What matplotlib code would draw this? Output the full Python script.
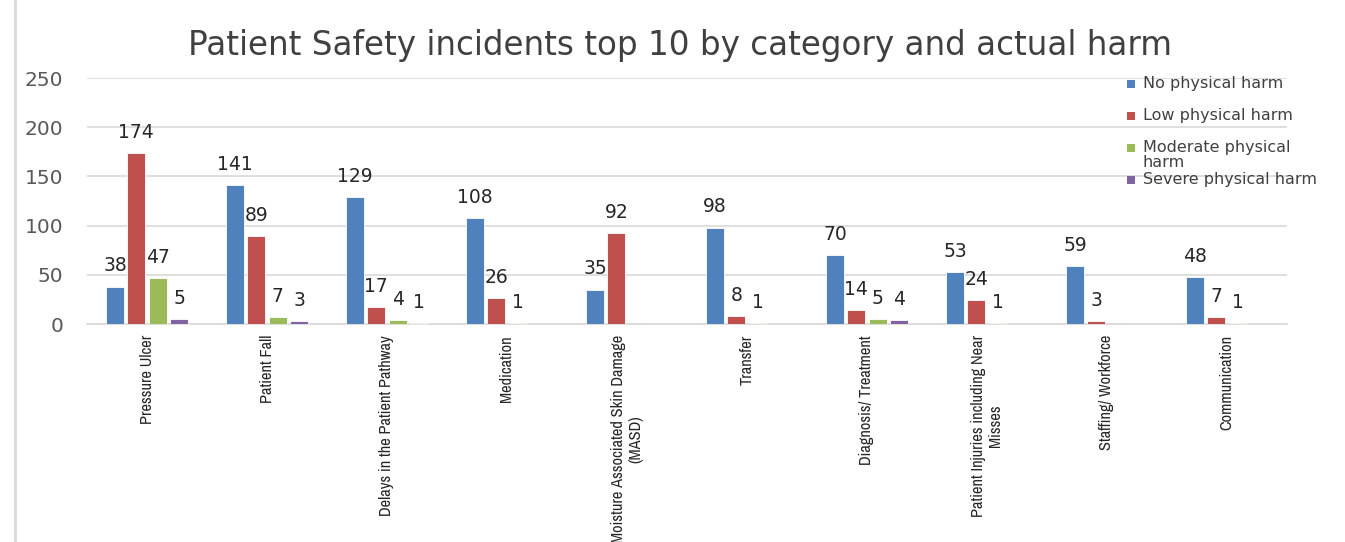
import matplotlib
matplotlib.use("Agg")
import matplotlib.pyplot as plt
from matplotlib.lines import Line2D
from matplotlib.patches import Rectangle
from matplotlib import font_manager
import numpy as np

categories = [
    "Pressure Ulcer",
    "Patient Fall",
    "Delays in the Patient Pathway",
    "Medication",
    "Moisture Associated Skin Damage\n(MASD)",
    "Transfer",
    "Diagnosis/ Treatment",
    "Patient Injuries including Near\nMisses",
    "Staffing/ Workforce",
    "Communication",
]
series_names = ["No physical harm", "Low physical harm",
                "Moderate physical\nharm", "Severe physical harm"]
no_harm = [38, 141, 129, 108, 35, 98, 70, 53, 59, 48]
low_harm = [174, 89, 17, 26, 92, 8, 14, 24, 3, 7]
moderate_harm = [47, 7, 4, 1, 0, 1, 5, 1, 0, 1]
severe_harm = [5, 3, 1, 0, 0, 0, 4, 0, 0, 0]
yticks = [0, 50, 100, 150, 200, 250]

# find a narrow / condensed font for the category labels if available
narrow_props = None
for f in font_manager.fontManager.ttflist:
    nm = f.name.lower()
    fn = f.fname.lower()
    if ("narrow" in nm or "narrow" in fn) and "bold" not in fn and "italic" not in fn:
        narrow_props = dict(family=f.name, fontstretch=f.stretch)
        break
if narrow_props is None:
    for f in font_manager.fontManager.ttflist:
        fn = f.fname.lower()
        if "condensed" in fn and "bold" not in fn and "oblique" not in fn and "italic" not in fn:
            narrow_props = dict(family=f.name, fontstretch="condensed")
            break
if narrow_props is None:
    narrow_props = dict(family="Liberation Sans")
    cat_size = 10.5
else:
    cat_size = 11.8

colors = ["#4F81BD", "#C0504D", "#9BBB59", "#8064A2"]
W, H = 1345, 542
fig = plt.figure(figsize=(W / 100, H / 100), dpi=100)
fig.patch.set_facecolor("white")

ax = fig.add_axes([87 / W, (H - 324) / H, 1200 / W, 246 / H])
x = np.arange(len(categories))
slot = 0.178
bw = 0.148
all_series = [no_harm, low_harm, moderate_harm, severe_harm]
for i, (vals, c) in enumerate(zip(all_series, colors)):
    off = (i - 1.5) * slot
    bars = ax.bar(x + off, vals, width=bw, color=c, edgecolor="white",
                  linewidth=0.6, zorder=3)
    for b, v in zip(bars, vals):
        if v == 0:
            continue
        ax.annotate(str(v), (b.get_x() + b.get_width() / 2, v),
                    xytext=(0, 8), textcoords="offset points",
                    ha="center", va="bottom", fontsize=13.5,
                    color="#262626", family="DejaVu Sans")

ax.set_xlim(-0.5, len(categories) - 0.5)
ax.set_ylim(0, 250)
ax.set_yticks(yticks)
ax.set_yticklabels([str(t) for t in yticks], fontsize=14.5, color="#595959")
ax.tick_params(axis="y", length=0, pad=17)
ax.yaxis.grid(True, color="#d9d9d9", linewidth=1.2, zorder=0)
ax.set_axisbelow(True)
for s in ["top", "right", "left"]:
    ax.spines[s].set_visible(False)
ax.spines["bottom"].set_color("#d9d9d9")
ax.spines["bottom"].set_linewidth(1.2)
ax.set_xticks(x)
ax.set_xticklabels(categories, rotation=90, ha="center", va="top",
                   multialignment="center", fontsize=cat_size, color="#262626",
                   linespacing=1.2, **narrow_props)
ax.tick_params(axis="x", length=0, pad=8)

fig.text(680 / W, 1 - 45 / H, "Patient Safety incidents top 10 by category and actual harm",
         ha="center", va="center", fontsize=23.5, color="#404040")

# legend (manual layout)
leg_y = [84, 116, 148, 180]
for name, c, yy in zip(series_names, colors, leg_y):
    fig.patches.append(Rectangle((1127 / W, 1 - (yy + 4) / H), 8 / W, 8 / H,
                                 transform=fig.transFigure, facecolor=c,
                                 edgecolor="none", figure=fig))
    fig.text(1143 / W, 1 - (yy - 8) / H, name, ha="left", va="top",
             fontsize=11.5, color="#404040", linespacing=1.0)

fig.lines.append(Line2D([15 / W, 15 / W], [0, 1], transform=fig.transFigure,
                        color="#d9d9d9", linewidth=2))

fig.savefig("out.png", dpi=100, facecolor="white")
